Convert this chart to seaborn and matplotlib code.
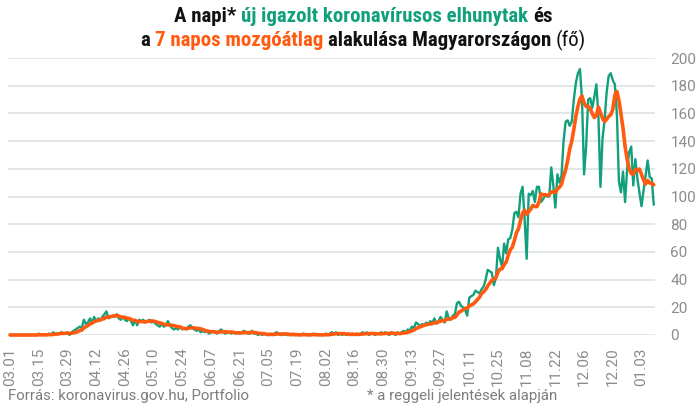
import numpy as np
import pandas as pd
import matplotlib
matplotlib.use("Agg")
import matplotlib.pyplot as plt
import matplotlib.dates as mdates
from matplotlib import font_manager as fm
import seaborn as sns

# ---------------- data ----------------
start_date = "2020-03-01"
mar = [0] * 14 + [1, 0, 0, 0, 0, 1, 0, 2, 1, 1, 1, 2, 1, 1, 2, 0, 2]
apr = [3, 4, 5, 6, 5, 11, 8, 9, 12, 9, 13, 10, 12, 11, 13, 15, 17, 12, 13, 14,
       13, 15, 12, 11, 13, 11, 10, 12, 10, 7]
may = [11, 7, 11, 10, 11, 9, 10, 11, 9, 10, 8, 7, 6, 8, 6, 7, 10, 7, 5, 4,
       5, 4, 6, 4, 5, 4, 6, 7, 5, 4, 3]
jun = [4, 2, 3, 2, 3, 1, 2, 3, 2, 1, 3, 4, 2, 1, 2, 2, 1, 2, 1, 2,
       1, 2, 3, 2, 1, 1, 3, 1, 1, 0]
jul = [1, 0, 1, 0, 0, 1, 0, 1, 2, 1, 0, 0, 1, 0, 0, 0, 1, 0, 0, 0,
       0, 1, 0, 0, 0, 0, 1, 0, 0, 0, 0]
aug = [0, 1, 0, 1, 2, 1, 2, 0, 1, 0, 1, 0, 1, 0, 1, 0, 1, 0, 1, 2,
       1, 2, 0, 1, 1, 0, 1, 1, 2, 1, 2]
sep = [1, 0, 2, 1, 0, 2, 1, 2, 3, 2, 4, 3, 6, 5, 9, 8, 6, 8, 7, 9,
       8, 10, 9, 12, 8, 10, 13, 11, 9, 17]
oct_ = [12, 11, 14, 15, 23, 24, 21, 20, 18, 14, 27, 28, 29, 32, 31, 30, 33, 35, 40, 47,
        46, 45, 36, 41, 63, 55, 49, 66, 59, 69, 70]
nov = [76, 88, 89, 85, 102, 107, 84, 55, 102, 101, 104, 96, 107, 107, 96, 98, 101, 100, 100, 121,
       108, 92, 116, 110, 115, 140, 154, 155, 151, 154]
dec = [170, 182, 189, 192, 170, 116, 136, 170, 171, 164, 172, 181, 158, 107, 142, 155, 175, 187, 189, 184,
       181, 160, 111, 103, 118, 96, 120, 132, 136, 108, 127]
jan = [113, 103, 93, 104, 115, 126, 114, 113, 94]

daily_deaths = mar + apr + may + jun + jul + aug + sep + oct_ + nov + dec + jan

x_tick_dates = ["2020-03-01", "2020-03-15", "2020-03-29", "2020-04-12", "2020-04-26",
                "2020-05-10", "2020-05-24", "2020-06-07", "2020-06-21", "2020-07-05",
                "2020-07-19", "2020-08-02", "2020-08-16", "2020-08-30", "2020-09-13",
                "2020-09-27", "2020-10-11", "2020-10-25", "2020-11-08", "2020-11-22",
                "2020-12-06", "2020-12-20", "2021-01-03"]
x_tick_labels = ["03.01", "03.15", "03.29", "04.12", "04.26", "05.10", "05.24", "06.07",
                 "06.21", "07.05", "07.19", "08.02", "08.16", "08.30", "09.13", "09.27",
                 "10.11", "10.25", "11.08", "11.22", "12.06", "12.20", "01.03"]
y_ticks = [0, 20, 40, 60, 80, 100, 120, 140, 160, 180, 200]

# ---------------- frame ----------------
dates = pd.date_range(start_date, periods=len(daily_deaths), freq="D")
df = pd.DataFrame({"date": dates, "daily": daily_deaths})
df["ma7"] = df["daily"].rolling(7, min_periods=1).mean()

GREEN = "#12a07c"
ORANGE = "#ff5a0f"
GRID = "#dce3e3"
LABEL = "#8c8c8c"

sns.set_style("white")
names = {f.name for f in fm.fontManager.ttflist}
base_font = "Roboto" if "Roboto" in names else "DejaVu Sans"
title_font = base_font
for cand in ["Roboto Condensed", "Liberation Sans Narrow", "Arial Narrow", "DejaVu Sans Condensed"]:
    if cand in names:
        title_font = cand
        break
plt.rcParams["font.family"] = [base_font, "DejaVu Sans"]

W, H = 700, 407
fig = plt.figure(figsize=(W / 100, H / 100), dpi=100)
ax = fig.add_axes([8 / W, (H - 335) / H, 647 / W, 277 / H])

sns.lineplot(data=df, x="date", y="daily", ax=ax, color=GREEN, linewidth=1.7,
             clip_on=False, zorder=3)
sns.lineplot(data=df, x="date", y="ma7", ax=ax, color=ORANGE, linewidth=2.6,
             clip_on=False, zorder=4)

ax.set_ylim(0, 200)
ax.set_xlim(dates[0] - pd.Timedelta(days=1), dates[-1] + pd.Timedelta(days=0.6))
ax.set_yticks(y_ticks)
ax.yaxis.tick_right()
ax.set_xticks(pd.to_datetime(x_tick_dates))
ax.set_xticklabels(x_tick_labels, rotation=90)
ax.tick_params(axis="y", length=0, pad=11, labelsize=11, labelcolor=LABEL)
ax.tick_params(axis="x", length=0, pad=9, labelsize=11, labelcolor=LABEL)
for lab in ax.get_yticklabels():
    lab.set_horizontalalignment("left")
ax.set_xlabel("")
ax.set_ylabel("")
ax.grid(axis="y", color=GRID, linewidth=1.2)
ax.grid(axis="x", visible=False)
for s in ax.spines.values():
    s.set_visible(False)
ax.set_axisbelow(True)

# ---------------- title (multi-coloured) ----------------
renderer = fig.canvas.get_renderer()
TSIZE = 15


def width_of(txt, weight):
    t = fig.text(0, 0, txt, fontsize=TSIZE, fontweight=weight, family=[title_font, "DejaVu Sans"])
    w = t.get_window_extent(renderer).width
    t.remove()
    return w


space_w = width_of("a b", "bold") - width_of("ab", "bold")


def draw_line(pieces, ycenter_px, xcenter_px):
    widths = [width_of(p[0], p[2]) for p in pieces]
    total = sum(widths) + space_w * (len(pieces) - 1)
    x = xcenter_px - total / 2
    for (txt, col, wt), w in zip(pieces, widths):
        fig.text(x / W, 1 - ycenter_px / H, txt, fontsize=TSIZE, fontweight=wt, color=col,
                 family=[title_font, "DejaVu Sans"], va="center", ha="left")
        x += w + space_w


BLACK = "#111111"
draw_line([("A napi*", BLACK, "bold"), ("új igazolt koronavírusos elhunytak", GREEN, "bold"),
           ("és", BLACK, "bold")], 16, 363)
draw_line([("a", BLACK, "bold"), ("7 napos mozgóátlag", ORANGE, "bold"),
           ("alakulása Magyarországon", BLACK, "bold"), ("(fő)", BLACK, "normal")], 40, 363)

# ---------------- footer ----------------
fig.text(8 / W, 1 - 396 / H, "Forrás: koronavirus.gov.hu, Portfolio", fontsize=10.8,
         color="#7d7d7d", va="center", ha="left")
fig.text(367 / W, 1 - 396 / H, "* a reggeli jelentések alapján", fontsize=10.8,
         color="#7d7d7d", va="center", ha="left")

fig.savefig("out.png", dpi=100)
